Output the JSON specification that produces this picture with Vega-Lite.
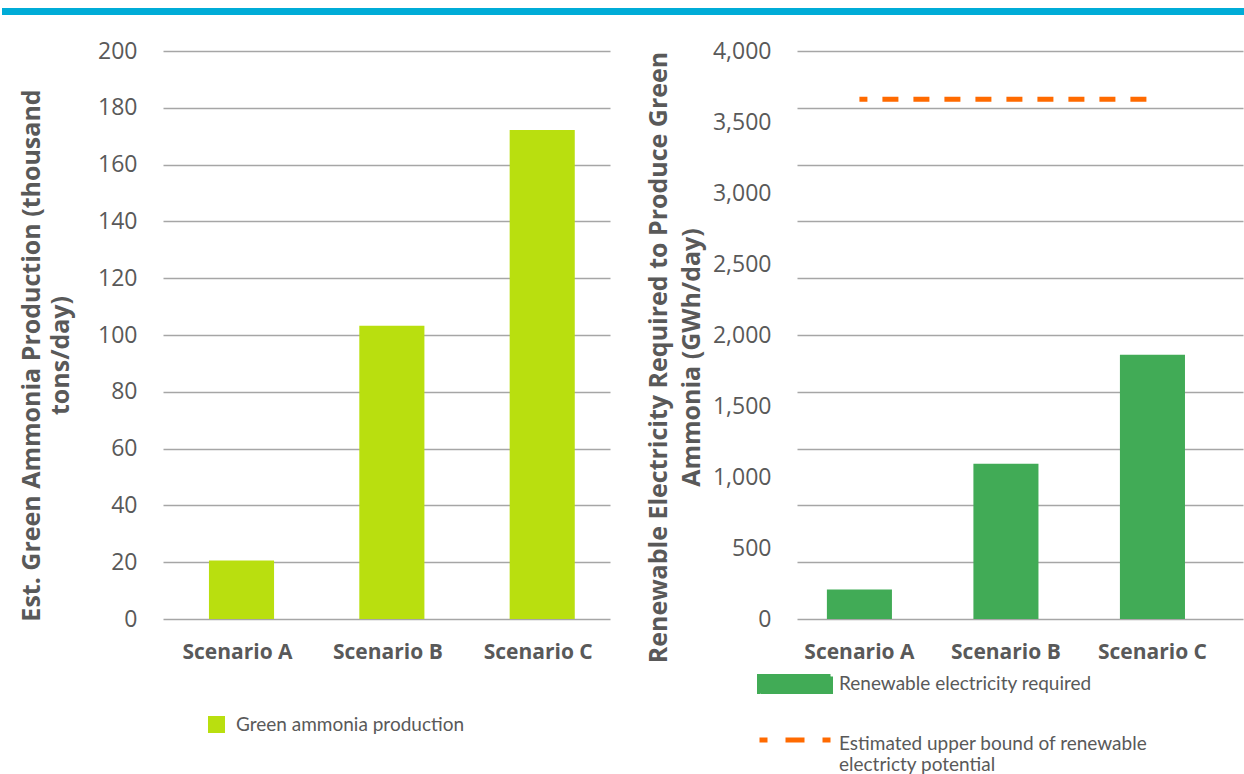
{
  "$schema": "https://vega.github.io/schema/vega-lite/v6.json",
  "padding": {"left": 2, "top": 8, "right": 0, "bottom": 0},
  "background": "white",
  "spacing": 25,
  "center": true,
  "config": {
    "view": {"stroke": null},
    "font": "Open Sans",
    "axis": {
      "labelColor": "#595959",
      "titleColor": "#595959",
      "domain": false,
      "ticks": false,
      "gridColor": "#A6A6A6",
      "gridWidth": 1.5
    },
    "legend": {"padding": 0, "titlePadding": 0}
  },
  "datasets": {
    "leftBars": [
      {"scenario": "Scenario A", "value": 20.6, "series": "Green ammonia production"},
      {"scenario": "Scenario B", "value": 103.3, "series": "Green ammonia production"},
      {"scenario": "Scenario C", "value": 172.2, "series": "Green ammonia production"}
    ],
    "rightBars": [
      {"scenario": "Scenario A", "value": 208, "series": "Renewable electricity required"},
      {"scenario": "Scenario B", "value": 1094, "series": "Renewable electricity required"},
      {"scenario": "Scenario C", "value": 1861, "series": "Renewable electricity required"}
    ],
    "rightLine": [
      {"scenario": "Scenario A", "value": 3660, "series": "Estimated upper bound of renewable electricty potential"},
      {"scenario": "Scenario B", "value": 3660, "series": "Estimated upper bound of renewable electricty potential"},
      {"scenario": "Scenario C", "value": 3660, "series": "Estimated upper bound of renewable electricty potential"}
    ]
  },
  "vconcat": [
    {
      "width": 1402,
      "height": 7,
      "view": {"fill": "#00ACD7", "stroke": null},
      "data": {"values": []},
      "mark": "point"
    },
    {
      "spacing": 36,
      "resolve": {"scale": {"color": "independent"}, "legend": {"color": "independent"}},
      "hconcat": [
        {
          "width": 447,
          "height": 568,
          "data": {"name": "leftBars"},
          "mark": {"type": "bar"},
          "encoding": {
            "x": {
              "field": "scenario",
              "type": "nominal",
              "sort": null,
              "scale": {"paddingInner": 0.567, "paddingOuter": 0.27, "align": 0.566},
              "axis": {
                "title": null,
                "labelAngle": 0,
                "labelFontWeight": "bold",
                "labelFontSize": 21,
                "labelPadding": 22,
                "labelOffset": -4,
                "grid": false
              }
            },
            "y": {
              "field": "value",
              "type": "quantitative",
              "scale": {"domain": [0, 200], "nice": false},
              "axis": {
                "values": [0, 20, 40, 60, 80, 100, 120, 140, 160, 180, 200],
                "title": ["Est. Green Ammonia Production (thousand", "tons/day)"],
                "titleFontSize": 25,
                "titleFontWeight": "bold",
                "titleLineHeight": 29,
                "titlePadding": 24,
                "titleY": 304,
                "labelFontSize": 23,
                "labelPadding": 26
              }
            },
            "color": {
              "field": "series",
              "type": "nominal",
              "scale": {"domain": ["Green ammonia production"], "range": ["#B9DF0F"]},
              "legend": {
                "orient": "none",
                "legendX": 44,
                "legendY": 664,
                "title": null,
                "symbolType": "square",
                "symbolSize": 289,
                "symbolStrokeWidth": 0,
                "symbolOpacity": 1,
                "labelOffset": 10,
                "labelLimit": 400,
                "labelFont": "Lato",
                "labelFontSize": 19,
                "labelColor": "#595959"
              }
            }
          }
        },
        {
          "width": 446,
          "height": 568,
          "layer": [
            {
              "data": {"name": "rightBars"},
              "mark": {"type": "bar"},
              "encoding": {
                "x": {
                  "field": "scenario",
                  "type": "nominal",
                  "sort": null,
                  "scale": {"paddingInner": 0.556, "paddingOuter": 0.3, "align": 0.34},
                  "axis": {
                    "title": null,
                    "labelAngle": 0,
                    "labelFontWeight": "bold",
                    "labelFontSize": 21,
                    "labelPadding": 22,
                    "grid": false
                  }
                },
                "y": {
                  "field": "value",
                  "type": "quantitative",
                  "scale": {"domain": [0, 4000], "nice": false},
                  "axis": {
                    "values": [0, 500, 1000, 1500, 2000, 2500, 3000, 3500, 4000],
                    "format": ",d",
                    "grid": false,
                    "title": ["Renewable Electricity Required to Produce Green", "Ammonia (GWh/day)"],
                    "titleFontSize": 25,
                    "titleFontWeight": "bold",
                    "titleLineHeight": 33,
                    "titlePadding": 8,
                    "titleY": 306,
                    "labelFontSize": 23,
                    "labelPadding": 26
                  }
                },
                "color": {
                  "field": "series",
                  "type": "nominal",
                  "scale": {
                    "domain": ["Renewable electricity required", "Estimated upper bound of renewable electricty potential"],
                    "range": ["#41AB56", "#FF6A00"]
                  },
                  "legend": {
                    "orient": "none",
                    "legendX": -40,
                    "legendY": 595,
                    "title": null,
                    "symbolSize": 5041,
                    "rowPadding": -12,
                    "labelOffset": 6,
                    "labelFont": "Lato",
                    "labelFontSize": 19,
                    "labelColor": "#595959",
                    "labelLimit": 400,
                    "labelExpr": "datum.value === 'Renewable electricity required' ? datum.label : ['Estimated upper bound of renewable', 'electricty potential']",
                    "encode": {
                      "labels": {
                        "update": {
                          "dy": [
                            {"test": "datum.value === 'Renewable electricity required'", "value": 0},
                            {"value": 4}
                          ]
                        }
                      },
                      "symbols": {
                        "update": {
                          "shape": [
                            {"test": "datum.value === 'Renewable electricity required'", "value": "M-1,-0.21H1V0.21H-1Z"},
                            {"value": "M-1,0H1"}
                          ],
                          "fill": [
                            {"test": "datum.value === 'Renewable electricity required'", "value": "#41AB56"},
                            {"value": "transparent"}
                          ],
                          "stroke": [
                            {"test": "datum.value === 'Renewable electricity required'", "value": "transparent"},
                            {"value": "#FF6A00"}
                          ],
                          "strokeWidth": {"value": 5},
                          "strokeDash": [
                            {"test": "datum.value === 'Renewable electricity required'", "value": [1, 0]},
                            {"value": [19, 18]}
                          ],
                          "strokeDashOffset": {"value": 11},
                          "size": {"value": 5041},
                          "opacity": {"value": 1}
                        }
                      }
                    }
                  }
                }
              }
            },
            {
              "data": {"name": "rightLine"},
              "mark": {"type": "line", "strokeWidth": 5, "strokeDash": [16, 15], "strokeDashOffset": 8},
              "encoding": {
                "x": {"field": "scenario", "type": "nominal", "sort": null},
                "y": {
                  "field": "value",
                  "type": "quantitative",
                  "axis": {
                    "orient": "right",
                    "values": [0, 400, 800, 1200, 1600, 2000, 2400, 2800, 3200, 3600, 4000],
                    "grid": true,
                    "labels": false,
                    "title": null
                  }
                },
                "color": {"field": "series", "type": "nominal"}
              }
            }
          ],
          "resolve": {"axis": {"y": "independent"}}
        }
      ]
    }
  ]
}
